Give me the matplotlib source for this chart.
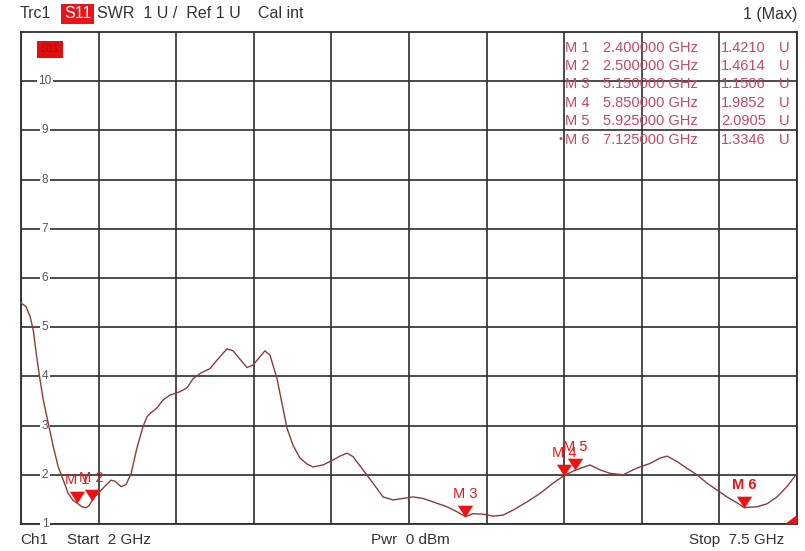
import matplotlib
matplotlib.use("Agg")
import matplotlib.pyplot as plt
from matplotlib.path import Path
from matplotlib.patches import Polygon

plt.rcParams['font.family'] = ['Liberation Sans', 'DejaVu Sans']

# ---- data (frequency in GHz, SWR) ----
freq_ghz = [2.000, 2.035, 2.064, 2.087, 2.111, 2.135, 2.158, 2.193, 2.229, 2.264,
            2.300, 2.335, 2.369, 2.400, 2.432, 2.461, 2.482, 2.500, 2.524, 2.553,
            2.595, 2.638, 2.666, 2.709, 2.744, 2.780, 2.822, 2.865, 2.893, 2.921,
            2.964, 3.006, 3.056, 3.127, 3.177, 3.219, 3.269, 3.340, 3.389, 3.460,
            3.503, 3.552, 3.602, 3.644, 3.694, 3.729, 3.765, 3.814, 3.850, 3.885,
            3.928, 3.977, 4.027, 4.069, 4.140, 4.211, 4.261, 4.311, 4.353, 4.424,
            4.495, 4.566, 4.637, 4.708, 4.778, 4.849, 4.920, 5.019, 5.090, 5.150,
            5.204, 5.275, 5.345, 5.416, 5.487, 5.586, 5.678, 5.771, 5.850, 5.925,
            6.033, 6.104, 6.175, 6.267, 6.338, 6.387, 6.458, 6.529, 6.579, 6.650,
            6.721, 6.791, 6.862, 6.933, 7.004, 7.075, 7.125, 7.216, 7.287, 7.358,
            7.429, 7.500]
swr = [5.49, 5.42, 5.22, 4.94, 4.40, 3.93, 3.52, 3.05, 2.57, 2.16,
       1.89, 1.62, 1.48, 1.42, 1.35, 1.33, 1.37, 1.46, 1.56, 1.64,
       1.77, 1.89, 1.87, 1.76, 1.80, 2.02, 2.55, 2.98, 3.18, 3.26,
       3.36, 3.52, 3.62, 3.69, 3.77, 3.95, 4.06, 4.16, 4.33, 4.56,
       4.52, 4.35, 4.18, 4.23, 4.40, 4.52, 4.43, 3.96, 3.45, 2.95,
       2.60, 2.34, 2.22, 2.16, 2.20, 2.30, 2.38, 2.44, 2.37, 2.10,
       1.83, 1.55, 1.49, 1.52, 1.55, 1.52, 1.45, 1.35, 1.25, 1.15,
       1.21, 1.20, 1.16, 1.18, 1.28, 1.45, 1.62, 1.83, 1.985, 2.09,
       2.20, 2.10, 2.03, 2.00, 2.10, 2.16, 2.23, 2.34, 2.38, 2.27,
       2.13, 2.00, 1.83, 1.69, 1.55, 1.43, 1.335, 1.35, 1.41, 1.55,
       1.76, 2.03]

marker_names = ["M 1", "M 2", "M 3", "M 4", "M 5", "M 6"]
marker_freq = [2.400, 2.500, 5.150, 5.850, 5.925, 7.125]
marker_swr = [1.4210, 1.4614, 1.1506, 1.9852, 2.0905, 1.3346]

y_ticks = [1, 2, 3, 4, 5, 6, 7, 8, 9, 10]
f_start, f_stop = 2.0, 7.5

W, H = 805, 551
fig = plt.figure(figsize=(W / 100, H / 100), dpi=100)
fig.patch.set_facecolor('white')
ax = fig.add_axes([21 / W, 1 - 524 / H, (797 - 21) / W, (524 - 32) / H])
ax.set_xlim(f_start, f_stop)
ax.set_ylim(1, 11)

gridc = '#2e2e2e'
for s in ax.spines.values():
    s.set_color(gridc)
    s.set_linewidth(1.3)
ax.set_xticks([f_start + i * (f_stop - f_start) / 10 for i in range(11)])
ax.set_yticks(y_ticks)
ax.grid(True, color=gridc, linewidth=1.2)
ax.tick_params(left=False, bottom=False, labelleft=False, labelbottom=False)

# y labels inside the plot
for v in y_ticks:
    ax.text(2.17, v, str(v), fontsize=8.5, color='#555555', ha='center', va='center',
            bbox=dict(facecolor='white', edgecolor='none', pad=1.0), zorder=3)

# trace
ax.plot(freq_ghz, swr, color='#8a3c3c', linewidth=1.0, zorder=4, clip_on=False)

# markers
tri = Path([(-0.65, 1.0), (0.65, 1.0), (0.0, 0.0), (-0.65, 1.0)],
           [Path.MOVETO, Path.LINETO, Path.LINETO, Path.CLOSEPOLY])
for name, f, v in zip(marker_names, marker_freq, marker_swr):
    ax.plot([f], [v], marker=tri, markersize=17, color='#ee1111', zorder=5,
            markeredgewidth=0)
    ax.annotate(name, xy=(f, v), xytext=(0, 11.5), textcoords='offset points',
                ha='center', va='bottom', fontsize=10.5, color='#e01a1a', zorder=6,
                fontweight='bold' if name == "M 6" else 'normal')

# small red corner indicator
ax.add_patch(Polygon([(0.985, 0.0), (1.0, 0.0), (1.0, 0.018)], closed=True,
                     transform=ax.transAxes, facecolor='#ee1111', edgecolor='none',
                     clip_on=False, zorder=6))

# S11 tag inside plot
ax.text(2.205, 10.65, "S11", fontsize=8, color='#b00000', ha='center', va='center',
        bbox=dict(facecolor='#e01010', edgecolor='none', pad=2.5), zorder=6)

# marker table
tc = '#c04a66'
for i, (name, f, v) in enumerate(zip(marker_names, marker_freq, marker_swr)):
    y = 1 - (47.5 + i * 18.4) / H
    fig.text(565 / W, y, name, fontsize=10.5, color=tc, va='center', ha='left')
    fig.text(603 / W, y, f"{f:.6f} GHz", fontsize=10.5, color=tc, va='center', ha='left')
    fig.text(721 / W, y, f"{v:.4f}", fontsize=10.5, color=tc, va='center', ha='left')
    fig.text(779 / W, y, "U", fontsize=10.5, color=tc, va='center', ha='left')
fig.text(558 / W, 1 - (47.5 + 5 * 18.4) / H, "•", fontsize=8, color=tc,
         va='center', ha='left')

# header
hc = '#333333'
fig.text(20 / W, 1 - 14 / H, "Trc1", fontsize=11.5, color=hc, va='center')
fig.text(64 / W, 1 - 14 / H, "S11", fontsize=11.5, color='white', va='center',
         bbox=dict(facecolor='#e8141c', edgecolor='none', pad=2.0))
fig.text(97 / W, 1 - 14 / H, "SWR  1 U /  Ref 1 U", fontsize=11.5, color=hc, va='center')
fig.text(258 / W, 1 - 14 / H, "Cal int", fontsize=11.5, color=hc, va='center')
fig.text(797 / W, 1 - 14 / H, "1 (Max)", fontsize=11.5, color=hc, va='center', ha='right')

# footer
fig.text(20 / W, 1 - 540 / H, "Ch1", fontsize=11, color=hc, va='center')
fig.text(67 / W, 1 - 540 / H, "Start  2 GHz", fontsize=11, color=hc, va='center')
fig.text(410 / W, 1 - 540 / H, "Pwr  0 dBm", fontsize=11, color=hc, va='center', ha='center')
fig.text(784 / W, 1 - 540 / H, "Stop  7.5 GHz", fontsize=11, color=hc, va='center', ha='right')

fig.savefig("out.png", dpi=100)
